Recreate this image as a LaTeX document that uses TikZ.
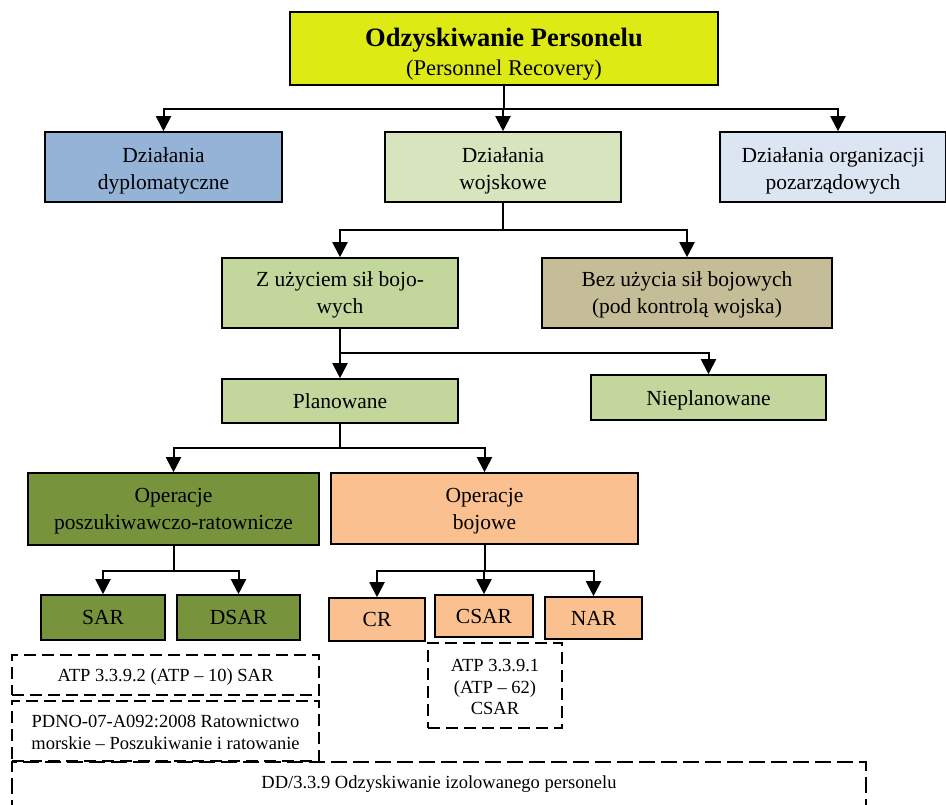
\documentclass[tikz,border=0pt]{standalone}
\usepackage{fontspec}
\setmainfont{Liberation Serif}
\usetikzlibrary{arrows.meta,calc}
\definecolor{cTop}{RGB}{222,234,20}
\definecolor{cDypl}{RGB}{149,179,215}
\definecolor{cWojsk}{RGB}{215,228,189}
\definecolor{cNgo}{RGB}{220,230,242}
\definecolor{cGreen}{RGB}{195,214,155}
\definecolor{cBez}{RGB}{196,189,151}
\definecolor{cOlive}{RGB}{119,147,60}
\definecolor{cPeach}{RGB}{250,192,144}
% lower a line of text inside its box without changing the box size
\newcommand\lowr[2]{\raisebox{-#1}[\height][\depth]{#2}}
\begin{document}
\begin{tikzpicture}[x=1pt,y=-1pt,
  box/.style={draw=black, line width=1.6pt, align=center, inner sep=0pt,
    font=\fontsize{21.5}{27}\selectfont, text=black},
  dbox/.style={draw=black, line width=1.8pt, dash pattern=on 12pt off 6pt,
    align=center, inner sep=0pt, font=\fontsize{18.5}{21.5}\selectfont},
  conn/.style={line width=2pt},
  arr/.style={line width=2pt, -{Triangle[width=15pt,length=15pt]}}]
\useasboundingbox (0,0) rectangle (946,804);

% main hierarchy
\node[box, fill=cTop, minimum width=428pt, minimum height=73pt,
  font=\fontsize{22.5}{28}\selectfont] (top) at (504,48.5)
  {\lowr{5pt}{\bfseries\fontsize{26.5}{28}\selectfont Odzyskiwanie Personelu}\\
   \lowr{6pt}{(Personnel Recovery)}};
\node[box, fill=cDypl, minimum width=237pt, minimum height=70pt] (dypl) at (163.5,167)
  {\lowr{4pt}{Działania}\\\lowr{4pt}{dyplomatyczne}};
\node[box, fill=cWojsk, minimum width=236pt, minimum height=70pt] (wojsk) at (503,167)
  {\lowr{4pt}{Działania}\\\lowr{4pt}{wojskowe}};
\node[box, fill=cNgo, minimum width=226pt, minimum height=70pt] (ngo) at (833,167)
  {\lowr{4pt}{Działania organizacji}\\\lowr{4pt}{pozarządowych}};

\node[box, fill=cGreen, minimum width=236pt, minimum height=70pt] (zuz) at (340,293)
  {\lowr{1.5pt}{Z użyciem sił bojo-}\\\lowr{1.5pt}{wych}};
\node[box, fill=cBez, minimum width=290pt, minimum height=70pt] (bez) at (687,293)
  {\lowr{1.5pt}{Bez użycia sił bojowych}\\\lowr{1.5pt}{(pod kontrolą wojska)}};

\node[box, fill=cGreen, minimum width=236pt, minimum height=44pt] (plan) at (340,401)
  {Planowane};
\node[box, fill=cGreen, minimum width=235pt, minimum height=45pt] (niepl) at (708.5,397.5)
  {\lowr{3pt}{Nieplanowane}};

\node[box, fill=cOlive, minimum width=291pt, minimum height=72pt] (posz) at (173.5,509)
  {\lowr{2.5pt}{Operacje}\\\lowr{2.5pt}{poszukiwawczo-ratownicze}};
\node[box, fill=cPeach, minimum width=307pt, minimum height=71pt] (boj) at (484.5,508.5)
  {\lowr{2.5pt}{Operacje}\\\lowr{2.5pt}{bojowe}};

\node[box, fill=cOlive, minimum width=124pt, minimum height=45pt] (sar) at (103,617.5) {SAR};
\node[box, fill=cOlive, minimum width=123pt, minimum height=45pt] (dsar) at (238.5,617.5) {DSAR};
\node[box, fill=cPeach, minimum width=96pt, minimum height=43pt] (cr) at (377,619.5) {CR};
\node[box, fill=cPeach, minimum width=98pt, minimum height=42pt] (csar) at (484,616) {CSAR};
\node[box, fill=cPeach, minimum width=97pt, minimum height=42pt] (nar) at (593.5,618) {NAR};

% documents
\node[dbox, minimum width=307pt, minimum height=40pt] (atp2) at (165.5,675)
  {\lowr{2pt}{ATP 3.3.9.2 (ATP – 10) SAR}};
\node[dbox, minimum width=307pt, minimum height=60pt] (pdno) at (165.5,731)
  {\lowr{1.5pt}{PDNO-07-A092:2008 Ratownictwo}\\\lowr{1.5pt}{morskie – Poszukiwanie i ratowanie}};
\node[dbox, minimum width=134pt, minimum height=85pt] (atp1) at (495,685.5)
  {\lowr{1.5pt}{ATP 3.3.9.1}\\\lowr{1.5pt}{(ATP – 62)}\\\lowr{1.5pt}{CSAR}};
\node[align=center, inner sep=0pt, font=\fontsize{18.5}{21.5}\selectfont,
  minimum width=854pt, minimum height=42pt] (dd) at (439,783)
  {\lowr{1.5pt}{DD/3.3.9 Odzyskiwanie izolowanego personelu}};
\draw[line width=1.8pt, dash pattern=on 16pt off 6pt]
  ([yshift=-12pt]dd.south west) |- (dd.north east) -- ([yshift=-12pt]dd.south east);

% connectors
\coordinate (j1) at ($(top.south)+(0,23)$);
\draw[conn] (top.south) -- (j1);
\draw[arr] (j1) -| (dypl.north);
\draw[arr] (j1) -| (wojsk.north);
\draw[arr] (j1) -| ([xshift=5pt]ngo.north);

\coordinate (j2) at ($(wojsk.south)+(0,27)$);
\draw[conn] (wojsk.south) -- (j2);
\draw[arr] (j2) -| (zuz.north);
\draw[arr] (j2) -| (bez.north);

\coordinate (j3) at ($(zuz.south)+(0,24)$);
\draw[conn] (zuz.south) -- (j3);
\draw[arr] (j3) -| (plan.north);
\draw[arr] (j3) -| (niepl.north);

\coordinate (j4) at ($(plan.south)+(0,24)$);
\draw[conn] (plan.south) -- (j4);
\draw[arr] (j4) -| (posz.north);
\draw[arr] (j4) -| (boj.north);

\coordinate (j5) at ($(posz.south)+(0,25)$);
\draw[conn] (posz.south) -- (j5);
\draw[arr] (j5) -| (sar.north);
\draw[arr] (j5) -| (dsar.north);

\coordinate (j6) at ($(boj.south)+(0,26)$);
\draw[conn] (boj.south) -- (j6);
\draw[arr] (j6) -| (cr.north);
\draw[arr] (j6) -| (csar.north);
\draw[arr] (j6) -| (nar.north);
\end{tikzpicture}
\end{document}
